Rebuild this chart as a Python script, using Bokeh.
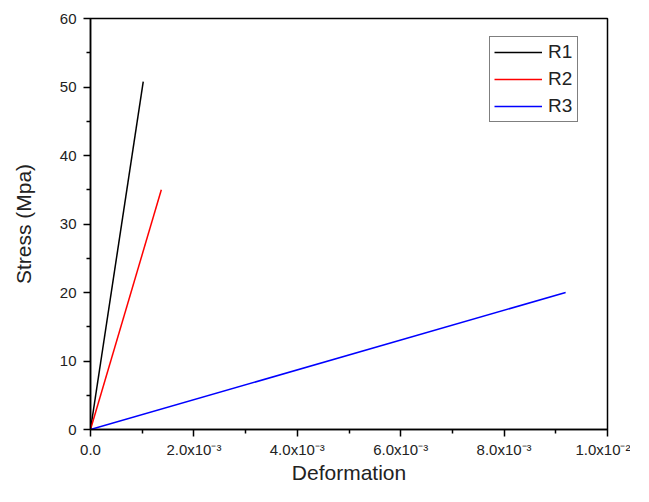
from bokeh.plotting import figure
from bokeh.models import Range1d, FixedTicker, Legend, LegendItem
from bokeh.embed import file_html
from bokeh.resources import INLINE

# Data
r1_x = [0.0, 1.02e-3]
r1_y = [0.0, 50.8]
r2_x = [0.0, 1.37e-3]
r2_y = [0.0, 35.0]
r3_x = [0.0, 9.19e-3]
r3_y = [0.0, 20.0]
series_names = ["R1", "R2", "R3"]
series_colors = ["#000000", "#ff0000", "#0000ff"]

x_ticks = [0.0, 0.002, 0.004, 0.006, 0.008, 0.010]
x_tick_labels = ["0.0", "2.0x10\u207b\u00b3", "4.0x10\u207b\u00b3", "6.0x10\u207b\u00b3",
                 "8.0x10\u207b\u00b3", "1.0x10\u207b\u00b2"]
x_minor = [0.001, 0.003, 0.005, 0.007, 0.009]
y_ticks = [0, 10, 20, 30, 40, 50, 60]
y_minor = [5, 15, 25, 35, 45, 55]

FONT = "Liberation Sans"

p = figure(width=630, height=486, output_backend="svg", toolbar_location=None,
           x_range=Range1d(0, 0.01), y_range=Range1d(0, 60),
           min_border_left=90, min_border_top=18, min_border_right=23, min_border_bottom=51)
p.background_fill_color = "white"
p.border_fill_color = "white"
p.outline_line_color = "black"
p.outline_line_width = 1.5
p.xgrid.visible = False
p.ygrid.visible = False

lines = []
for xs, ys, c in zip([r1_x, r2_x, r3_x], [r1_y, r2_y, r3_y], series_colors):
    lines.append(p.line(xs, ys, line_color=c, line_width=1.5))

p.xaxis.ticker = FixedTicker(ticks=x_ticks, minor_ticks=x_minor)
p.xaxis.major_label_overrides = {t: l for t, l in zip(x_ticks, x_tick_labels)}
p.yaxis.ticker = FixedTicker(ticks=y_ticks, minor_ticks=y_minor)
p.yaxis.major_label_overrides = {t: str(t) for t in y_ticks}

for ax in (p.xaxis[0], p.yaxis[0]):
    ax.axis_line_color = "black"
    ax.axis_line_width = 1.5
    ax.major_tick_line_color = "black"
    ax.major_tick_line_width = 1.5
    ax.minor_tick_line_color = "black"
    ax.minor_tick_line_width = 1.5
    ax.major_tick_in = 0
    ax.major_tick_out = 7
    ax.minor_tick_in = 0
    ax.minor_tick_out = 4
    ax.major_label_text_font = FONT
    ax.major_label_text_font_size = "15px"
    ax.major_label_text_color = "#222222"
    ax.axis_label_text_font = FONT
    ax.axis_label_text_font_size = "21px"
    ax.axis_label_text_font_style = "normal"
    ax.axis_label_text_color = "#222222"

p.xaxis.axis_label = "Deformation"
p.yaxis.axis_label = "Stress (Mpa)"
p.xaxis.major_label_standoff = 4
p.xaxis.axis_label_standoff = 0
p.yaxis.major_label_standoff = 7
p.yaxis.axis_label_standoff = 22

legend = Legend(items=[LegendItem(label=n, renderers=[r]) for n, r in zip(series_names, lines)],
                location=(399, 307))
legend.border_line_color = "black"
legend.border_line_width = 1.5
legend.background_fill_alpha = 1
legend.padding = 4
legend.spacing = 5
legend.glyph_width = 48
legend.glyph_height = 20
legend.label_height = 20
legend.label_width = 25
legend.label_standoff = 6
legend.margin = 0
legend.label_text_font = FONT
legend.label_text_font_size = "19px"
legend.label_text_color = "#222222"
p.add_layout(legend)

open("out.html", "w").write(file_html(p, INLINE))
